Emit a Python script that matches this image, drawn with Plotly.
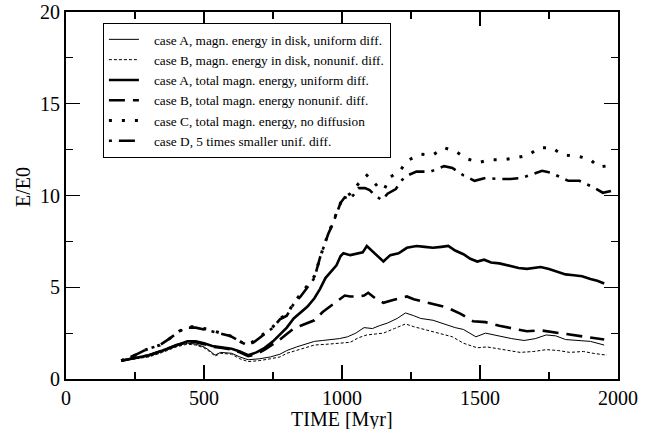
import plotly.graph_objects as go

# ---- data ----
t_a_disk = [200, 250, 300, 350, 400, 440, 470, 500, 520, 540, 560, 600, 630, 660, 700, 740, 775, 800, 836, 870, 900, 930, 960, 990, 1020, 1050, 1080, 1110, 1135, 1165, 1200, 1230, 1260, 1285, 1330, 1380, 1410, 1440, 1465, 1485, 1520, 1565, 1615, 1660, 1700, 1740, 1775, 1810, 1850, 1900, 1950]
v_a_disk = [1.0, 1.1, 1.25, 1.5, 1.8, 1.95, 1.9, 1.75, 1.55, 1.3, 1.45, 1.4, 1.2, 1.05, 1.1, 1.2, 1.35, 1.55, 1.75, 1.9, 2.05, 2.1, 2.15, 2.2, 2.3, 2.5, 2.8, 2.75, 2.9, 3.05, 3.3, 3.6, 3.45, 3.3, 3.2, 2.95, 2.8, 2.7, 2.5, 2.3, 2.5, 2.35, 2.2, 2.1, 2.2, 2.4, 2.35, 2.15, 2.1, 2.05, 1.85]

t_b_disk = [200, 250, 300, 350, 400, 440, 470, 500, 520, 540, 560, 600, 630, 660, 700, 740, 775, 800, 836, 870, 900, 950, 1000, 1030, 1060, 1090, 1120, 1150, 1190, 1230, 1260, 1285, 1340, 1400, 1440, 1490, 1525, 1570, 1610, 1645, 1695, 1740, 1785, 1825, 1875, 1910, 1960]
v_b_disk = [1.0, 1.08, 1.2, 1.45, 1.75, 1.9, 1.85, 1.7, 1.5, 1.25, 1.4, 1.35, 1.1, 0.95, 1.0, 1.1, 1.2, 1.4, 1.55, 1.7, 1.85, 1.9, 1.95, 2.0, 2.25, 2.4, 2.45, 2.5, 2.75, 3.0, 2.85, 2.75, 2.55, 2.3, 1.95, 1.7, 1.75, 1.65, 1.55, 1.45, 1.5, 1.6, 1.55, 1.45, 1.5, 1.4, 1.3]

t_a_tot = [200, 250, 300, 350, 400, 440, 470, 500, 530, 560, 600, 630, 660, 690, 720, 750, 775, 800, 825, 850, 875, 900, 920, 940, 960, 980, 995, 1005, 1030, 1060, 1075, 1090, 1120, 1150, 1175, 1205, 1235, 1270, 1300, 1330, 1360, 1385, 1410, 1440, 1465, 1490, 1515, 1540, 1570, 1600, 1640, 1670, 1700, 1720, 1750, 1780, 1810, 1840, 1870, 1900, 1925, 1950]
v_a_tot = [1.0, 1.15, 1.3, 1.55, 1.85, 2.05, 2.05, 1.95, 1.8, 1.75, 1.65, 1.5, 1.3, 1.45, 1.7, 2.05, 2.45, 2.8, 3.3, 3.6, 3.95, 4.4, 4.9, 5.5, 5.85, 6.2, 6.7, 6.85, 6.75, 6.85, 6.9, 7.25, 6.8, 6.4, 6.75, 6.85, 7.15, 7.25, 7.2, 7.15, 7.2, 7.25, 7.0, 6.8, 6.55, 6.4, 6.5, 6.35, 6.3, 6.2, 6.05, 6.0, 6.05, 6.1, 6.0, 5.85, 5.7, 5.65, 5.6, 5.45, 5.35, 5.2]

t_b_tot = [200, 250, 300, 350, 400, 440, 470, 500, 530, 560, 600, 630, 660, 690, 720, 750, 775, 800, 825, 850, 875, 900, 930, 960, 990, 1010, 1030, 1060, 1080, 1095, 1120, 1150, 1185, 1210, 1235, 1260, 1285, 1330, 1380, 1430, 1475, 1520, 1570, 1620, 1670, 1720, 1765, 1815, 1860, 1910, 1950]
v_b_tot = [1.0, 1.15, 1.3, 1.55, 1.85, 2.0, 2.0, 1.9, 1.75, 1.7, 1.6, 1.45, 1.25, 1.35, 1.6, 1.9, 2.15, 2.45, 2.75, 2.9, 3.05, 3.2, 3.65, 4.0, 4.3, 4.55, 4.5, 4.5, 4.55, 4.7, 4.4, 4.15, 4.3, 4.4, 4.5, 4.35, 4.25, 4.1, 3.9, 3.55, 3.15, 3.1, 2.9, 2.75, 2.6, 2.65, 2.55, 2.45, 2.35, 2.25, 2.15]

t_c_tot = [200, 250, 290, 340, 375, 410, 440, 470, 500, 530, 560, 595, 630, 655, 680, 715, 750, 775, 800, 825, 850, 875, 900, 920, 935, 950, 965, 980, 995, 1010, 1030, 1060, 1090, 1117, 1140, 1155, 1175, 1210, 1237, 1283, 1328, 1371, 1413, 1452, 1496, 1539, 1584, 1629, 1675, 1715, 1760, 1802, 1850, 1895, 1932, 1977]
v_c_tot = [1.0, 1.3, 1.6, 1.85, 2.2, 2.6, 2.85, 2.85, 2.75, 2.65, 2.5, 2.35, 2.05, 1.85, 2.05, 2.45, 2.85, 3.3, 3.5, 4.15, 4.6, 5.1, 5.6, 6.6, 7.3, 7.9, 8.5, 9.1, 9.6, 9.9, 10.1, 10.65, 11.1, 10.7, 10.3, 10.4, 11.0, 11.35, 11.9, 12.25, 12.2, 12.6, 12.4, 12.0, 11.8, 11.95, 11.95, 12.05, 12.2, 12.6, 12.6, 12.2, 12.15, 12.0, 11.55, 11.65]

t_d_tot = [200, 250, 290, 340, 375, 410, 440, 470, 500, 530, 560, 595, 630, 655, 680, 715, 750, 775, 800, 825, 850, 875, 900, 920, 935, 950, 965, 980, 995, 1010, 1030, 1045, 1060, 1083, 1100, 1120, 1145, 1165, 1195, 1215, 1230, 1270, 1320, 1345, 1370, 1400, 1440, 1480, 1520, 1565, 1610, 1650, 1690, 1725, 1755, 1785, 1820, 1860, 1910, 1945, 1975]
v_d_tot = [1.0, 1.3, 1.6, 1.85, 2.2, 2.6, 2.8, 2.8, 2.7, 2.6, 2.5, 2.35, 2.05, 1.85, 2.0, 2.4, 2.8, 3.25, 3.45, 4.1, 4.5, 5.0, 5.5, 6.6, 7.3, 7.9, 8.4, 9.0, 9.6, 9.9, 9.8, 10.1, 10.4, 10.4, 10.3, 10.0, 9.75, 10.1, 10.35, 10.8, 11.05, 11.3, 11.3, 11.45, 11.6, 11.5, 11.1, 10.8, 10.95, 10.9, 10.9, 10.95, 11.15, 11.35, 11.25, 11.05, 10.8, 10.8, 10.45, 10.15, 10.25]

labels = [
    "case A, magn. energy in disk, uniform diff.",
    "case B, magn. energy in disk, nonunif. diff.",
    "case A, total magn. energy, uniform diff.",
    "case B, total magn. energy nonunif. diff.",
    "case C, total magn. energy, no diffusion",
    "case D, 5 times smaller unif. diff.",
]

x_ticks = [0, 500, 1000, 1500, 2000]
y_ticks = [0, 5, 10, 15, 20]
x_title = "TIME [Myr]"
y_title = "E/E0"

FONT = "Liberation Serif, Times New Roman, serif"
PAD = "\u00a0\u00a0\u00a0"  # gap between legend sample line and its text

series = [
    (t_a_disk, v_a_disk, dict(width=1, dash="solid")),
    (t_b_disk, v_b_disk, dict(width=1, dash="3px,2px")),
    (t_a_tot, v_a_tot, dict(width=2.6, dash="solid")),
    (t_b_tot, v_b_tot, dict(width=2.6, dash="16px,8px")),
    (t_c_tot, v_c_tot, dict(width=3, dash="3px,10px")),
    (t_d_tot, v_d_tot, dict(width=2.6, dash="3px,7px,16px,7px")),
]

fig = go.Figure()
for (t, v, ln), name in zip(series, labels):
    fig.add_trace(go.Scatter(x=t, y=v, mode="lines", name=PAD + name,
                             line=dict(color="black", **ln)))

axis_common = dict(
    showline=True, linecolor="black", linewidth=2, mirror="allticks",
    ticks="inside", ticklen=14, tickwidth=1.2, tickcolor="black",
    showgrid=False, zeroline=False, automargin=False,
    tickfont=dict(family=FONT, size=20, color="black"),
)

fig.update_layout(
    width=660, height=429, autosize=False,
    margin=dict(l=66, r=42, t=12, b=50, autoexpand=False),
    paper_bgcolor="white", plot_bgcolor="white",
    font=dict(family=FONT, color="black"),
    showlegend=True,
    legend=dict(
        x=0.0665, y=0.970, xanchor="left", yanchor="top",
        bgcolor="white", bordercolor="black", borderwidth=1.2,
        font=dict(family=FONT, size=13.3, color="black"),
        tracegroupgap=0, itemwidth=30,
    ),
    xaxis=dict(range=[0, 2000], tickvals=x_ticks,
               minor=dict(dtick=250, ticklen=7, tickwidth=1.2, ticks="inside", tickcolor="black"),
               **axis_common),
    yaxis=dict(range=[0, 20], tickvals=y_ticks,
               minor=dict(dtick=2.5, ticklen=7, tickwidth=1.2, ticks="inside", tickcolor="black"),
               **axis_common),
    annotations=[
        dict(text=x_title, xref="paper", yref="paper", x=0.5, y=0,
             xanchor="center", yanchor="middle", yshift=-40, showarrow=False,
             font=dict(family=FONT, size=20, color="black")),
        dict(text=y_title, xref="paper", yref="paper", x=0, y=0.523,
             xanchor="center", yanchor="middle", xshift=-43, textangle=-90,
             showarrow=False, font=dict(family=FONT, size=20, color="black")),
    ],
)

fig.write_html(
    "out.html",
    config={"displayModeBar": False, "staticPlot": True},
    post_script="document.body.style.margin='0px';document.body.style.padding='0px';document.body.style.overflow='hidden';",
)
